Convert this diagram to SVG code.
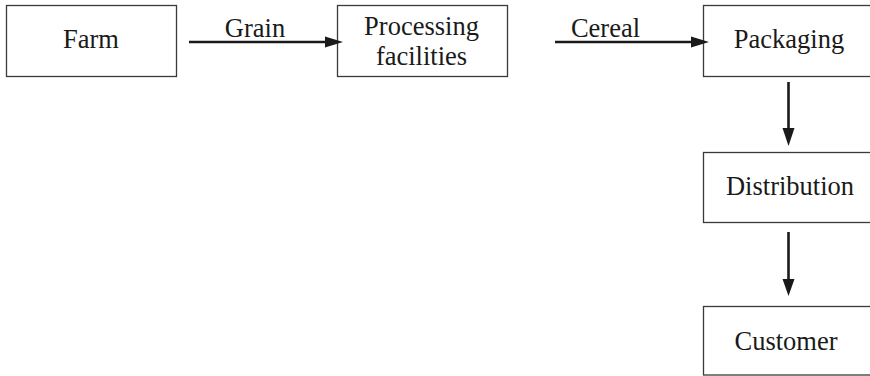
<svg xmlns="http://www.w3.org/2000/svg" width="870" height="376" viewBox="0 0 870 376">
<defs>
<style>
.box{fill:#fff;stroke:#3a3a3a;stroke-width:1.3}
.t{font-family:"Liberation Serif","Times New Roman",serif;font-size:26.5px;fill:#1a1a1a;text-anchor:middle}
.c{stroke:#1a1a1a;stroke-width:2.6;fill:none}
.ah{fill:#1a1a1a}
</style>
</defs>
<rect width="870" height="376" fill="#fff"/>
<g id="farm"><rect class="box" x="6.5" y="5.5" width="170" height="71"/><text class="t" x="91" y="47.5">Farm</text></g>
<g id="processing"><rect class="box" x="337.5" y="5.5" width="170" height="71"/><text class="t" x="421.5" y="35">Processing</text><text class="t" x="421.5" y="65">facilities</text></g>
<g id="packaging"><rect class="box" x="703.5" y="5.5" width="180" height="71"/><text class="t" x="789" y="47.5">Packaging</text></g>
<g id="distribution"><rect class="box" x="703.5" y="152.5" width="180" height="70"/><text class="t" x="790" y="195">Distribution</text></g>
<g id="customer"><rect class="box" x="703.5" y="306.5" width="180" height="68.5"/><text class="t" x="786" y="350">Customer</text></g>
<g id="connectors">
<line class="c" x1="189" y1="42" x2="327" y2="42"/><polygon class="ah" points="325,36.5 343,42 325,47.5"/>
<text class="t" x="255" y="37.3">Grain</text>
<line class="c" x1="555" y1="42" x2="693" y2="42"/><polygon class="ah" points="691,36.5 709,42 691,47.5"/>
<text class="t" x="605.5" y="37.3">Cereal</text>
<line class="c" x1="788.5" y1="82" x2="788.5" y2="130"/><polygon class="ah" points="782.5,128 788.5,146 794.5,128"/>
<line class="c" x1="788.5" y1="232" x2="788.5" y2="281"/><polygon class="ah" points="782.5,279 788.5,296 794.5,279"/>
</g>
</svg>
